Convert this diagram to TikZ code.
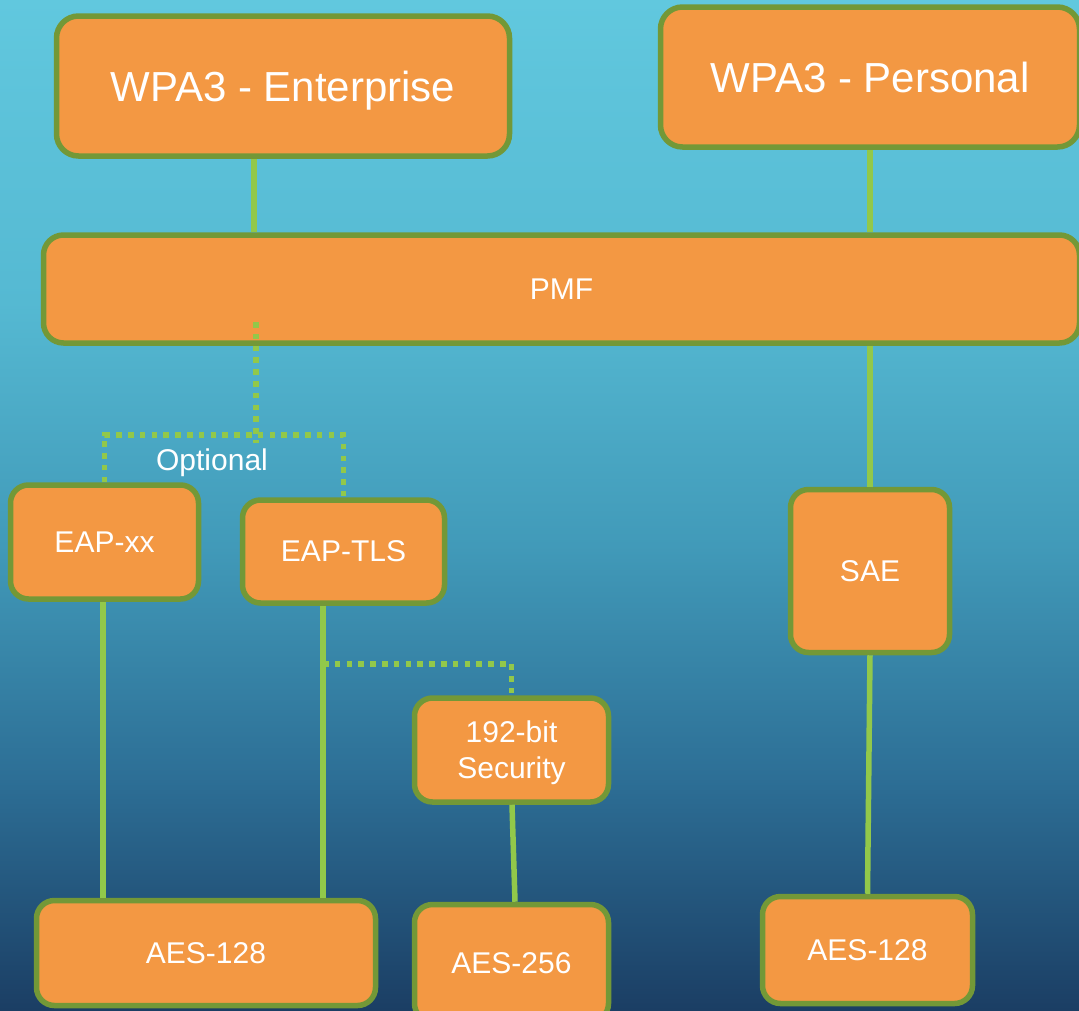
\documentclass[tikz,border=0pt]{standalone}
\usepackage{fontspec}
\setmainfont{Liberation Sans}
\usetikzlibrary{calc}
\definecolor{boxfill}{RGB}{243,152,67}
\definecolor{boxline}{RGB}{115,152,55}
\definecolor{linkgreen}{RGB}{146,200,74}
% backdrop: light cyan at the top fading to deep navy at the bottom
% (only the 25bp..75bp band of a shading covers the shaded path)
\pgfdeclareverticalshading{backdrop}{100bp}{
  rgb(0bp)=(0.106,0.243,0.392);
  rgb(25bp)=(0.106,0.243,0.392);
  rgb(36.5bp)=(0.176,0.435,0.588);
  rgb(48bp)=(0.255,0.604,0.725);
  rgb(60bp)=(0.333,0.725,0.824);
  rgb(75bp)=(0.38,0.784,0.871);
  rgb(100bp)=(0.38,0.784,0.871)}
\begin{document}
\begin{tikzpicture}[x=1pt,y=-1pt,
  box/.style={draw=boxline, fill=boxfill, line width=5.5pt, rounded corners=18pt,
    text=white, align=center, inner sep=0pt, text depth=0pt,
    font=\fontsize{30}{36}\selectfont},
  bigbox/.style={box, rounded corners=22pt, font=\fontsize{42}{50}\selectfont},
  link/.style={draw=linkgreen, line width=5.5pt},
  dots/.style={draw=linkgreen, line width=5.5pt, line cap=butt, dash pattern=on 5.5pt off 6.3pt},
  lbl/.style={text=white, inner sep=0pt, font=\fontsize{30}{36}\selectfont}]
  % canvas and background
  \useasboundingbox (0,0) rectangle (1079,1010);
  \clip (0,0) rectangle (1079,1010);
  \shade[shading=backdrop] (0,0) rectangle (1079,1010);

  % boxes
  \node[bigbox, minimum width=453pt, minimum height=140pt] (ent) at (283,86) {WPA3 - Enterprise};
  \node[bigbox, minimum width=419pt, minimum height=140pt] (pers) at (870,77) {WPA3 - Personal};
  \node[box, rounded corners=20pt, minimum width=1036pt, minimum height=108pt] (pmf) at (561.5,289) {PMF};
  \node[box, minimum width=188pt, minimum height=114pt] (eapxx) at (104.5,542) {EAP-xx};
  \node[box, minimum width=202pt, minimum height=103pt] (eaptls) at (343.5,551.5) {EAP-TLS};
  \node[box, minimum width=159pt, minimum height=163pt] (sae) at (870,571) {SAE};
  \node[box, minimum width=194pt, minimum height=104pt] (sec) at (511.5,750) {192-bit\\Security};
  \node[box, minimum width=339pt, minimum height=105pt] (aesa) at (206,953) {AES-128};
  \node[box, minimum width=194pt, minimum height=117pt] (aesb) at (511.5,963) {AES-256};
  \node[box, minimum width=210pt, minimum height=107pt] (aesc) at (867.5,950) {AES-128};

  \node[lbl] (opt) at (212,463) {Optional};

  % helper coordinates for the connector columns
  \coordinate (xent) at (254,0);
  \coordinate (xtls) at (323,0);
  \coordinate (xeap) at (103,0);
  \coordinate (pmfdot) at (256,322);
  \coordinate (fork) at (256,435);
  \coordinate (tlsfork) at (323,664);

  % solid connectors
  \draw[link] (ent.south -| xent) -- (pmf.north -| xent);
  \draw[link] (pers.south) -- (pers.south |- pmf.north);
  \draw[link] (sae.north |- pmf.south) -- (sae.north);
  \draw[link] (sae.south) -- (aesc.north);
  \draw[link] (eapxx.south -| xeap) -- (aesa.north -| xeap);
  \draw[link] (eaptls.south -| xtls) -- (aesa.north -| xtls);
  \draw[link] ($(sec.south)+(0.5,0)$) -- ($(aesb.north)+(3.5,0)$);

  % optional (dotted) connectors
  \draw[dots] (pmfdot) -- ($(fork)+(0,8)$);
  \draw[dots] (eapxx.north) |- (fork) -| (eaptls.north);
  \draw[dots] (tlsfork) -| (sec.north);
\end{tikzpicture}
\end{document}
